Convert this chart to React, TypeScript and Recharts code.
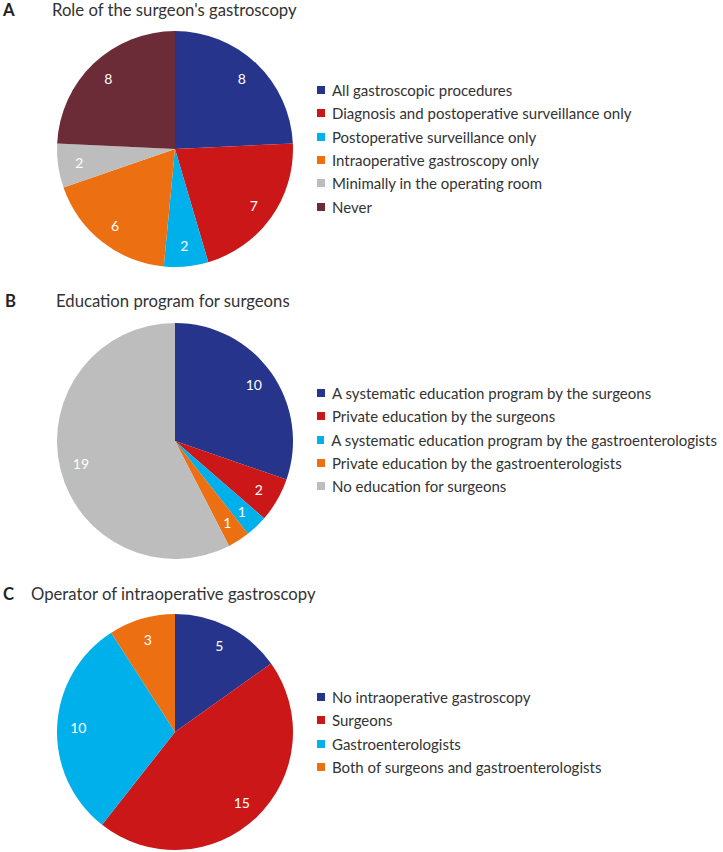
import React from "react";
import { PieChart, Pie, Cell, Legend } from "recharts";

const roleLabels = [
  "All gastroscopic procedures",
  "Diagnosis and postoperative surveillance only",
  "Postoperative surveillance only",
  "Intraoperative gastroscopy only",
  "Minimally in the operating room",
  "Never",
];
const roleValues = [8, 7, 2, 6, 2, 8];
const roleColors = ["#27348B", "#CC1719", "#00B0EA", "#EC6F12", "#BDBDBD", "#6B2C38"];

const eduLabels = [
  "A systematic education program by the surgeons",
  "Private education by the surgeons",
  "A systematic education program by the gastroenterologists",
  "Private education by the gastroenterologists",
  "No education for surgeons",
];
const eduValues = [10, 2, 1, 1, 19];
const eduColors = ["#27348B", "#CC1719", "#00B0EA", "#EC6F12", "#BDBDBD"];

const opLabels = [
  "No intraoperative gastroscopy",
  "Surgeons",
  "Gastroenterologists",
  "Both of surgeons and gastroenterologists",
];
const opValues = [5, 15, 10, 3];
const opColors = ["#27348B", "#CC1719", "#00B0EA", "#EC6F12"];

const FONT = "Lato, 'Open Sans', sans-serif";
const RAD = Math.PI / 180;

const renderLabel = (props: any) => {
  const { cx, cy, midAngle, outerRadius, value } = props;
  const r = outerRadius * 0.82;
  const x = cx + r * Math.cos(-midAngle * RAD);
  const y = cy + r * Math.sin(-midAngle * RAD);
  return (
    <text
      x={x}
      y={y}
      fill="#ffffff"
      textAnchor="middle"
      dominantBaseline="central"
      fontSize={14}
      fontFamily={FONT}
    >
      {value}
    </text>
  );
};

const makeLegend = (order: string[]) => (props: any) => {
  const payload = [...(props.payload || [])].sort(
    (a: any, b: any) => order.indexOf(a.value) - order.indexOf(b.value)
  );
  return (
    <div style={{ fontFamily: FONT, fontSize: 15, color: "#333333" }}>
      {payload.map((p: any, i: number) => (
        <div
          key={i}
          style={{ display: "flex", alignItems: "center", height: 23.3, whiteSpace: "nowrap" }}
        >
          <span
            style={{
              display: "inline-block",
              width: 8,
              height: 8,
              background: p.color,
              marginRight: 7,
            }}
          />
          <span>{p.value}</span>
        </div>
      ))}
    </div>
  );
};

type PanelProps = {
  labels: string[];
  values: number[];
  colors: string[];
  height: number;
  cy: number;
  legendTop: number;
};

const Panel = ({ labels, values, colors, height, cy, legendTop }: PanelProps) => {
  const data = labels.map((name, i) => ({ name, value: values[i] }));
  return (
    <PieChart width={723} height={height} margin={{ top: 0, right: 0, bottom: 0, left: 0 }}>
      <Pie
        data={data}
        dataKey="value"
        nameKey="name"
        cx={175}
        cy={cy}
        outerRadius={118}
        startAngle={90}
        endAngle={-270}
        stroke="none"
        label={renderLabel}
        labelLine={false}
        isAnimationActive={false}
      >
        {data.map((_, i) => (
          <Cell key={i} fill={colors[i]} />
        ))}
      </Pie>
      <Legend
        content={makeLegend(labels)}
        layout="vertical"
        verticalAlign="middle"
        align="right"
        wrapperStyle={{ left: 317, top: legendTop, width: 400 }}
      />
    </PieChart>
  );
};

const Title = ({ letter, text, top, letterLeft, textLeft }: any) => (
  <div style={{ position: "absolute", top, left: 0, width: 723, height: 20, fontFamily: FONT, fontSize: 16.7, lineHeight: "20px", color: "#333333" }}>
    <span style={{ position: "absolute", left: letterLeft, fontWeight: 700, color: "#222222" }}>{letter}</span>
    <span style={{ position: "absolute", left: textLeft }}>{text}</span>
  </div>
);

export default function App() {
  return (
    <div style={{ position: "absolute", left: 0, top: 0, width: 723, height: 852, background: "#ffffff", overflow: "hidden" }}>
      <div style={{ position: "absolute", left: 0, top: 0 }}>
        <Panel labels={roleLabels} values={roleValues} colors={roleColors} height={290} cy={149} legendTop={78.5} />
      </div>
      <div style={{ position: "absolute", left: 0, top: 290 }}>
        <Panel labels={eduLabels} values={eduValues} colors={eduColors} height={292} cy={151} legendTop={91.5} />
      </div>
      <div style={{ position: "absolute", left: 0, top: 582 }}>
        <Panel labels={opLabels} values={opValues} colors={opColors} height={270} cy={150} legendTop={103.5} />
      </div>
      <Title letter="A" text="Role of the surgeon's gastroscopy" top={0} letterLeft={3} textLeft={52} />
      <Title letter="B" text="Education program for surgeons" top={291} letterLeft={5} textLeft={56} />
      <Title letter="C" text="Operator of intraoperative gastroscopy" top={583.5} letterLeft={3} textLeft={31} />
    </div>
  );
}
